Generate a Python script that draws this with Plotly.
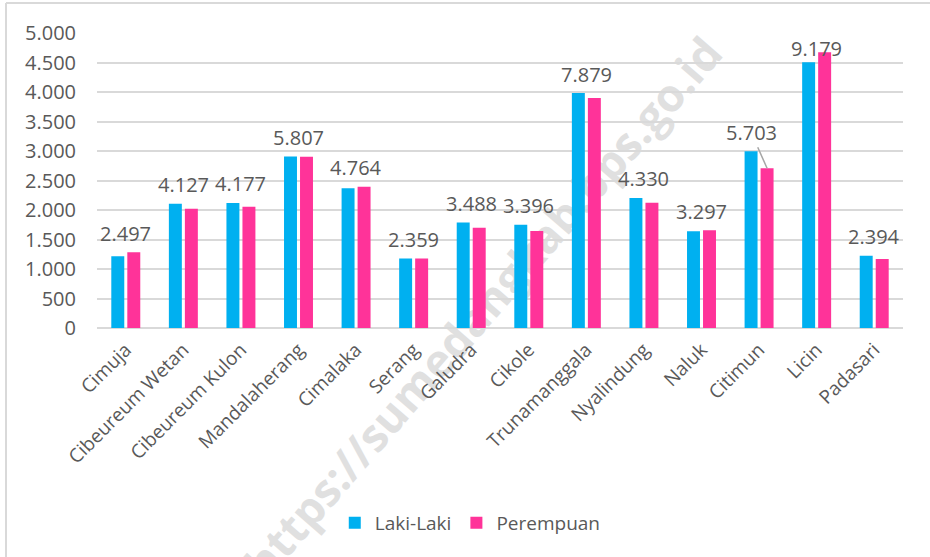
import plotly.graph_objects as go

categories = ["Cimuja", "Cibeureum Wetan", "Cibeureum Kulon", "Mandalaherang", "Cimalaka",
              "Serang", "Galudra", "Cikole", "Trunamanggala", "Nyalindung", "Naluk",
              "Citimun", "Licin", "Padasari"]
laki = [1215, 2105, 2120, 2905, 2370, 1180, 1787, 1750, 3982, 2205, 1640, 2995, 4505, 1225]
perempuan = [1282, 2022, 2057, 2902, 2394, 1179, 1701, 1646, 3897, 2125, 1657, 2708, 4674, 1169]
totals = [2497, 4127, 4177, 5807, 4764, 2359, 3488, 3396, 7879, 4330, 3297, 5703, 9179, 2394]
y_ticks = list(range(0, 5001, 500))
y_ticklabels = [f"{v:,}".replace(",", ".") for v in y_ticks]
watermark = "https://sumedangkab.bps.go.id"

FONT = "'Open Sans', 'Noto Sans', sans-serif"
TXT = "#595959"
W, H = 930, 557
ML, MR, MT, MB = 97, 27, 33, 229
plot_w = W - ML - MR
plot_h = H - MT - MB
ymax = 5000
upp = ymax / plot_h  # data units per pixel

fig = go.Figure()
fig.add_trace(go.Bar(x=categories, y=laki, name="Laki-Laki", marker_color="#00B0F0",
                     marker_line_width=0))
fig.add_trace(go.Bar(x=categories, y=perempuan, name="Perempuan", marker_color="#FF3399",
                     marker_line_width=0))

annotations = []
for c, l, p, t in zip(categories, laki, perempuan, totals):
    txt = f"{t:,}".replace(",", ".")
    top = max(l, p)
    yc = min(top + 19 * upp, ymax - 15 * upp)
    if c == "Citimun":
        annotations.append(dict(x=c, y=p, xref="x", yref="y", text=txt, showarrow=True,
                                arrowhead=0, arrowwidth=1.5, arrowcolor="#a6a6a6",
                                ax=-16, ay=-36, xshift=8, standoff=0,
                                font=dict(family=FONT, size=20, color=TXT)))
    else:
        annotations.append(dict(x=c, y=yc, xref="x", yref="y", text=txt, showarrow=False,
                                yanchor="middle", font=dict(family=FONT, size=20, color=TXT)))

wm_index = len(annotations)
annotations.append(dict(x=(482 - ML) / plot_w, y=(H - MB - 307) / plot_h,
                        xref="paper", yref="paper", xanchor="center", yanchor="middle",
                        text="<b>" + watermark + "</b>", showarrow=False, textangle=-49,
                        font=dict(family="Open Sans", size=45, color="#e0e0e0")))

fig.update_layout(
    width=W, height=H,
    margin=dict(l=ML, r=MR, t=MT, b=MB, pad=0),
    paper_bgcolor="white", plot_bgcolor="rgba(0,0,0,0)",
    barmode="group", bargap=0.444, bargroupgap=0.19,
    separators=",.",
    font=dict(family=FONT, color=TXT),
    showlegend=True,
    legend=dict(orientation="h", x=0.295, y=-0.661, xanchor="left", yanchor="middle",
                font=dict(family=FONT, size=19, color=TXT), itemwidth=30,
                bgcolor="rgba(0,0,0,0)"),
    annotations=annotations,
    shapes=[
        dict(type="line", xref="paper", yref="paper", x0=(6 - ML) / plot_w,
             x1=(W - ML) / plot_w, y0=(H - MB - 3) / plot_h, y1=(H - MB - 3) / plot_h,
             line=dict(color="#d9d9d9", width=2)),
        dict(type="line", xref="paper", yref="paper", x0=(6 - ML) / plot_w,
             x1=(6 - ML) / plot_w, y0=(H - MB - 3) / plot_h, y1=-(MB) / plot_h,
             line=dict(color="#d9d9d9", width=2)),
    ],
)
fig.update_xaxes(tickangle=-45, tickfont=dict(family=FONT, size=19, color=TXT),
                 showgrid=False, showline=False, ticks="", ticklabelstandoff=6)
fig.update_yaxes(range=[0, ymax], tickvals=y_ticks, ticktext=y_ticklabels,
                 tickfont=dict(family=FONT, size=20, color=TXT),
                 showgrid=True, gridcolor="#d9d9d9", gridwidth=2,
                 zeroline=True, zerolinecolor="#d9d9d9", zerolinewidth=2,
                 showline=False, ticks="", ticklabelstandoff=20)

post = """
document.body.style.margin = '0';
(function(){
  var gd = document.getElementById('{plot_id}');
  var tries = 0;
  function mv(){
    var a = gd.querySelector('g.annotation[data-index="%d"]');
    var l = gd.querySelector('.layer-below');
    if (a && l) { l.insertBefore(a, l.firstChild); }
    else if (tries++ < 100) { setTimeout(mv, 20); }
  }
  mv();
})();
""" % wm_index

fig.write_html("out.html", post_script=post, config={"displayModeBar": False})
